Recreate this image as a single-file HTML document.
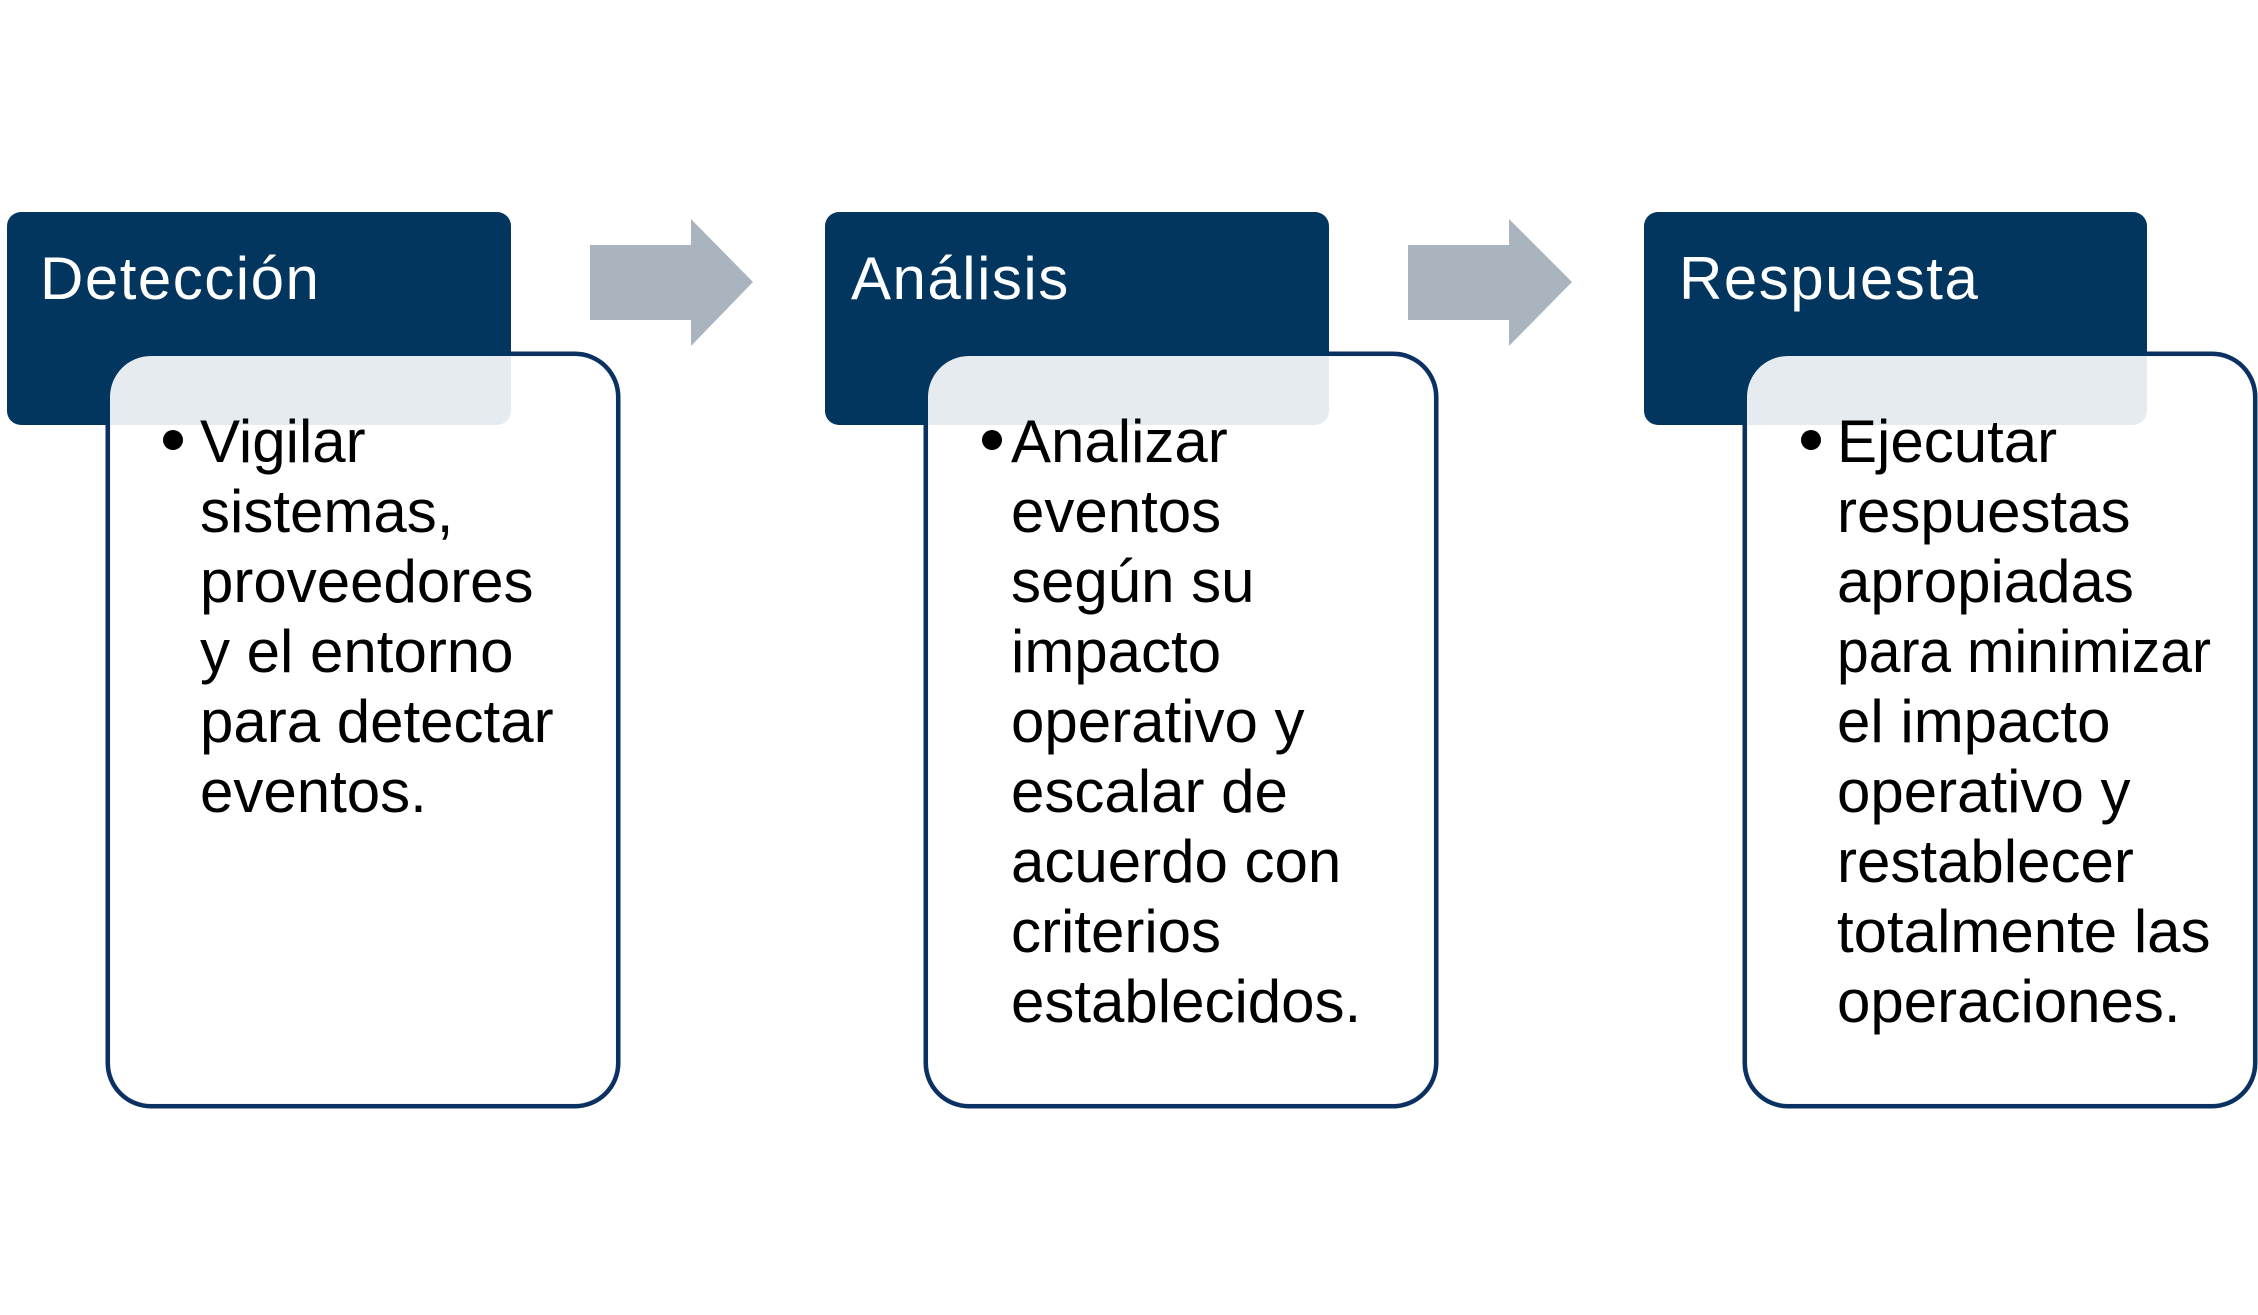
<!DOCTYPE html>
<html><head><meta charset="utf-8"><style>
html,body{margin:0;padding:0;background:#fff;}
svg{display:block;}
text{font-family:"Liberation Sans",Arial,sans-serif;}
</style></head><body>
<svg width="2258" height="1315" viewBox="0 0 2258 1315" xmlns="http://www.w3.org/2000/svg">
<rect width="2258" height="1315" fill="#fff"/>
<polygon points="590,245 691,245 691,219 753,282 691,346 691,320 590,320" fill="#a9b4bf"/>
<polygon points="1408,245 1509,245 1509,219 1572,282 1509,346 1509,320 1408,320" fill="#a9b4bf"/>

<g>
<rect x="108" y="354" width="510" height="752" rx="43" fill="#fff" stroke="#0a3161" stroke-width="5"/>
<rect x="7" y="212" width="504" height="213" rx="14" fill="#03365f"/>
<rect x="110" y="356" width="506" height="748" rx="41" fill="rgba(255,255,255,0.9)"/>
<text x="40" y="299" font-size="60" letter-spacing="1.5" fill="#fff">Detección</text>
<circle cx="173" cy="440" r="10" fill="#000"/>
<text font-size="60" fill="#000">
<tspan x="200" y="462">Vigilar</tspan>
<tspan x="200" y="532">sistemas,</tspan>
<tspan x="200" y="602">proveedores</tspan>
<tspan x="200" y="672">y el entorno</tspan>
<tspan x="200" y="742">para detectar</tspan>
<tspan x="200" y="812">eventos.</tspan>
</text>
</g>

<g>
<rect x="926" y="354" width="510" height="752" rx="43" fill="#fff" stroke="#0a3161" stroke-width="5"/>
<rect x="825" y="212" width="504" height="213" rx="14" fill="#03365f"/>
<rect x="928" y="356" width="506" height="748" rx="41" fill="rgba(255,255,255,0.9)"/>
<text x="851" y="299" font-size="60" letter-spacing="1.5" fill="#fff">Análisis</text>
<circle cx="992" cy="440" r="10" fill="#000"/>
<text font-size="60" fill="#000">
<tspan x="1011" y="462">Analizar</tspan>
<tspan x="1011" y="532">eventos</tspan>
<tspan x="1011" y="602">según su</tspan>
<tspan x="1011" y="672">impacto</tspan>
<tspan x="1011" y="742">operativo y</tspan>
<tspan x="1011" y="812">escalar de</tspan>
<tspan x="1011" y="882">acuerdo con</tspan>
<tspan x="1011" y="952">criterios</tspan>
<tspan x="1011" y="1022">establecidos.</tspan>
</text>
</g>

<g>
<rect x="1745" y="354" width="510" height="752" rx="43" fill="#fff" stroke="#0a3161" stroke-width="5"/>
<rect x="1644" y="212" width="503" height="213" rx="14" fill="#03365f"/>
<rect x="1747" y="356" width="506" height="748" rx="41" fill="rgba(255,255,255,0.9)"/>
<text x="1679" y="299" font-size="60" letter-spacing="1.5" fill="#fff">Respuesta</text>
<circle cx="1811" cy="440" r="10" fill="#000"/>
<text font-size="60" fill="#000">
<tspan x="1837" y="462">Ejecutar</tspan>
<tspan x="1837" y="532">respuestas</tspan>
<tspan x="1837" y="602">apropiadas</tspan>
<tspan x="1837" y="672" textLength="374" lengthAdjust="spacingAndGlyphs">para minimizar</tspan>
<tspan x="1837" y="742">el impacto</tspan>
<tspan x="1837" y="812">operativo y</tspan>
<tspan x="1837" y="882">restablecer</tspan>
<tspan x="1837" y="952">totalmente las</tspan>
<tspan x="1837" y="1022">operaciones.</tspan>
</text>
</g>
</svg>
</body></html>
